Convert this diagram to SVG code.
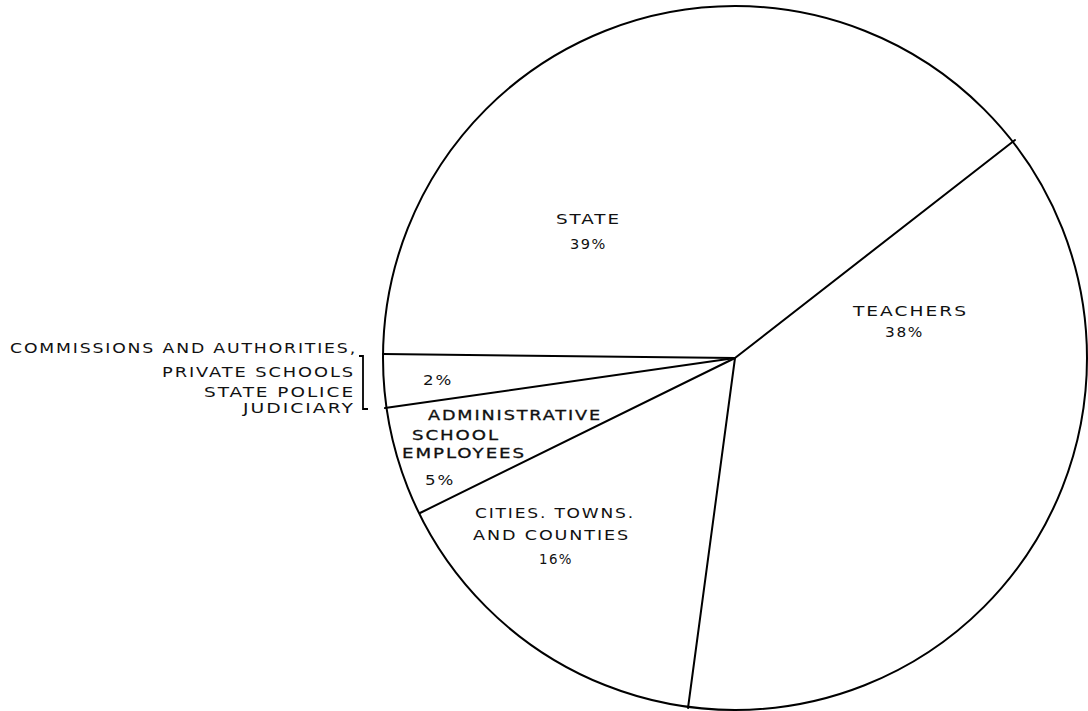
<svg xmlns="http://www.w3.org/2000/svg" width="1088" height="711" viewBox="0 0 1088 711">
<style>
  text { font-family: "DejaVu Sans", "Liberation Sans", sans-serif; font-size: 14px; fill: #111; letter-spacing: 1.5px; }
  .bold { stroke: #111; stroke-width: 0.3px; }
  .ln { stroke: #000; stroke-width: 2; fill: none; stroke-linecap: round; }
  .br { stroke: #000; stroke-width: 1.8; fill: none; }
</style>
<rect width="1088" height="711" fill="#fff"/>
<g id="pie">
  <circle class="ln" cx="735" cy="358" r="352"/>
</g>
<g id="connectors">
  <line class="ln" x1="735" y1="358" x2="1015" y2="140"/>
  <line class="ln" x1="735" y1="358" x2="383" y2="354"/>
  <line class="ln" x1="735" y1="358" x2="385" y2="408"/>
  <line class="ln" x1="735" y1="358" x2="420" y2="513"/>
  <line class="ln" x1="735" y1="358" x2="688" y2="708"/>
  <polyline class="br" points="359,356 363,356 363,409 368,409"/>
</g>
<g id="state">
  <text x="556" y="224" textLength="65" lengthAdjust="spacingAndGlyphs">STATE</text>
  <text x="570" y="249" textLength="37" lengthAdjust="spacingAndGlyphs">39%</text>
</g>
<g id="teachers">
  <text x="853" y="316" textLength="115" lengthAdjust="spacingAndGlyphs">TEACHERS</text>
  <text x="885" y="337" textLength="39" lengthAdjust="spacingAndGlyphs">38%</text>
</g>
<g id="cities">
  <text x="475" y="518" textLength="160" lengthAdjust="spacingAndGlyphs">CITIES. TOWNS.</text>
  <text x="473" y="540" textLength="157" lengthAdjust="spacingAndGlyphs">AND COUNTIES</text>
  <text x="539" y="564" textLength="34" lengthAdjust="spacingAndGlyphs">16%</text>
</g>
<g id="admin">
  <text class="bold" x="428" y="420" textLength="174" lengthAdjust="spacingAndGlyphs">ADMINISTRATIVE</text>
  <text class="bold" x="412" y="440" textLength="88" lengthAdjust="spacingAndGlyphs">SCHOOL</text>
  <text class="bold" x="402" y="458" textLength="124" lengthAdjust="spacingAndGlyphs">EMPLOYEES</text>
  <text x="425" y="485" textLength="30" lengthAdjust="spacingAndGlyphs">5%</text>
</g>
<g id="other">
  <text x="423" y="385" textLength="30" lengthAdjust="spacingAndGlyphs">2%</text>
  <text x="10" y="353" textLength="347" lengthAdjust="spacingAndGlyphs">COMMISSIONS AND AUTHORITIES,</text>
  <text x="162" y="377" textLength="193" lengthAdjust="spacingAndGlyphs">PRIVATE SCHOOLS</text>
  <text x="204" y="397" textLength="151" lengthAdjust="spacingAndGlyphs">STATE POLICE</text>
  <text x="243" y="413" textLength="112" lengthAdjust="spacingAndGlyphs">JUDICIARY</text>
</g>
</svg>
